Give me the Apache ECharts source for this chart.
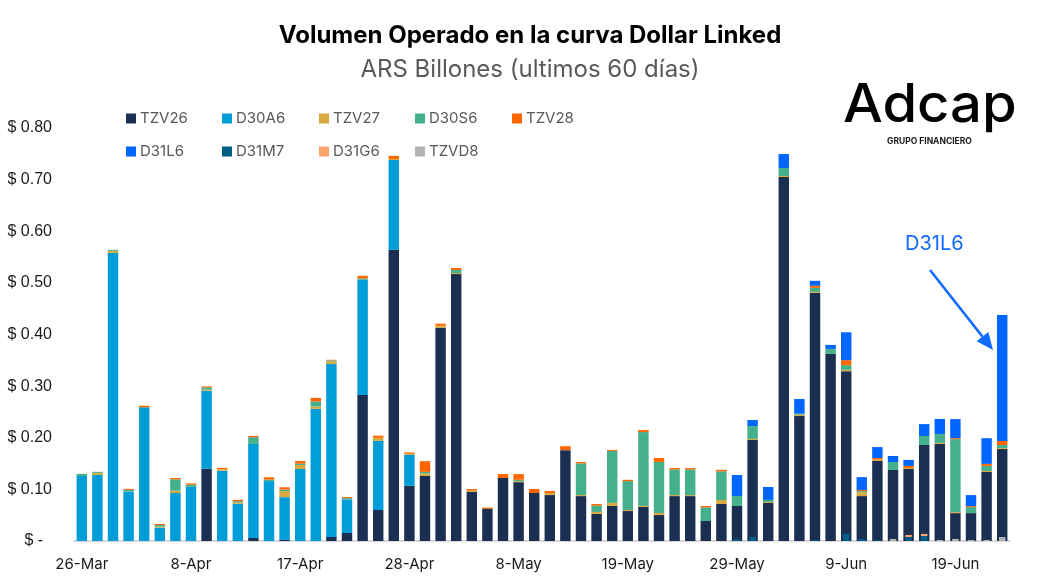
<!DOCTYPE html>
<html>
<head>
<meta charset="utf-8">
<script src="https://cdn.jsdelivr.net/npm/echarts/dist/echarts.min.js"></script>
<style>
  html, body { margin: 0; padding: 0; background: #ffffff; }
  #chart { width: 1060px; height: 579px; }
</style>
</head>
<body>
<div id="chart"></div>
<script>
// ---- Data (ARS billones) ----
const dates = [
  '26-Mar','27-Mar','28-Mar','31-Mar','1-Apr','3-Apr','7-Apr','8-Apr','9-Apr','10-Apr',
  '11-Apr','14-Apr','15-Apr','16-Apr','17-Apr','21-Apr','22-Apr','23-Apr','24-Apr','25-Apr',
  '27-Apr','28-Apr','29-Apr','30-Apr','2-May','5-May','6-May','7-May','8-May','9-May',
  '12-May','13-May','14-May','15-May','16-May','19-May','20-May','21-May','22-May','26-May',
  '27-May','28-May','29-May','30-May','2-Jun','3-Jun','4-Jun','5-Jun','6-Jun','9-Jun',
  '10-Jun','11-Jun','12-Jun','13-Jun','17-Jun','18-Jun','19-Jun','23-Jun','24-Jun','25-Jun'
];

const TZV26 = [
  0,0,0,0,0,0,0,0,0.140,0,
  0,0.006,0,0.002,0,0,0.0077,0.0155,0.283,0.060,
  0.564,0.107,0.126,0.413,0.517,0.095,0.062,0.122,0.114,0.093,
  0.089,0.176,0.087,0.0523,0.0678,0.058,0.066,0.0503,0.087,0.087,
  0.0387,0.0717,0.0678,0.1957,0.0736,0.705,0.242,0.4806,0.3624,0.329,
  0.087,0.155,0.1375,0.1395,0.186,0.188,0.054,0.054,0.1337,0.178
];
const D30A6 = [
  0.126,0.128,0.558,0.096,0.259,0.026,0.093,0.105,0.151,0.136,
  0.072,0.182,0.116,0.083,0.1395,0.256,0.335,0.065,0.223,0.134,
  0.174,0.060,0,0,0,0,0,0,0,0,
  0,0,0,0,0,0,0,0,0,0,
  0,0,0,0,0,0,0,0,0,0,
  0,0,0,0,0,0,0,0,0,0
];
const TZV27 = [
  0,0.004,0.004,0,0,0.002,0.0045,0,0.002,0.003,
  0.0026,0,0,0.0116,0.0077,0.0045,0.005,0,0,0.006,
  0.002,0.002,0.005,0.004,0.002,0.0026,0,0,0.002,0,
  0.004,0,0.002,0.004,0.006,0.002,0.002,0.004,0.002,0.002,
  0,0.0077,0,0.002,0.002,0.002,0.0026,0.002,0,0.0026,
  0.0077,0.0026,0,0.002,0,0.002,0.002,0,0.002,0.002
];
const D30S6 = [
  0.004,0.002,0.002,0.003,0,0.003,0.022,0.004,0.0045,0,
  0.0026,0.013,0.003,0.003,0.0026,0.0097,0.002,0.0026,0.0026,0,
  0,0,0.003,0,0.006,0,0,0,0.0026,0,
  0,0,0.0613,0.0123,0.1007,0.056,0.143,0.0988,0.0497,0.0497,
  0.0265,0.0555,0.0194,0.025,0.004,0.0155,0.002,0.0077,0.0097,0.009,
  0.002,0,0.0155,0,0.0174,0.0174,0.1413,0.0116,0.0097,0.006
];
const TZV28 = [
  0,0,0,0.002,0.003,0.002,0.0026,0.0026,0.002,0.0026,
  0.0026,0.0026,0.0045,0.0045,0.005,0.007,0.0013,0.002,0.005,0.004,
  0.006,0.0026,0.0207,0.004,0.004,0.003,0.0026,0.0077,0.011,0.0077,
  0.004,0.0077,0.0026,0.003,0.002,0.0026,0.004,0.0077,0.0026,0.0026,
  0.0026,0.003,0,0,0,0,0,0.004,0,0.0097,
  0.002,0.003,0,0.004,0,0,0.002,0.002,0.004,0.0077
];
const D31L6 = [
  0,0,0,0,0,0,0,0,0,0,
  0,0,0,0,0,0,0,0,0,0,
  0,0,0,0,0,0,0,0,0,0,
  0,0,0,0,0,0,0,0,0,0,
  0,0,0.0407,0.0116,0.025,0.027,0.0284,0.0097,0.0077,0.054,
  0.025,0.0213,0.0116,0.0116,0.023,0.029,0.0368,0.0213,0.0497,0.244
];
const D31M7 = [
  0,0,0,0,0,0,0,0,0,0,
  0,0,0,0,0,0,0,0,0,0,
  0,0,0,0,0,0,0,0,0,0,
  0,0,0,0,0,0,0,0,0,0,
  0,0,0.004,0.0077,0,0,0,0.002,0,0.0136,
  0.004,0.002,0,0.0077,0.0097,0,0,0,0,0
];
const D31G6 = [
  0,0,0,0,0,0,0,0,0,0,
  0,0,0,0,0,0,0,0,0,0,
  0,0,0,0,0,0,0,0,0,0,
  0,0,0,0,0,0,0,0,0,0,
  0,0,0,0,0,0,0,0,0,0,
  0,0,0,0.004,0.004,0,0,0,0,0
];
const TZVD8 = [
  0,0,0,0,0,0,0,0,0,0,
  0,0,0,0,0,0,0,0,0,0,
  0,0,0,0,0,0,0,0,0,0,
  0,0,0,0,0,0,0,0,0,0,
  0,0,0,0,0,0,0,0,0,0,
  0,0,0.004,0,0,0.002,0.004,0.002,0.002,0.0077
];

const yTicks = [0, 0.1, 0.2, 0.3, 0.4, 0.5, 0.6, 0.7, 0.8];

const colors = {
  TZV26: '#1B2F52', D30A6: '#009DD9', TZV27: '#D9A93D', D30S6: '#44B08C', TZV28: '#FF6600',
  D31L6: '#0066FF', D31M7: '#015F85', D31G6: '#FFA46C', TZVD8: '#B3B3B3'
};

const mainSeries = [['TZV26', TZV26], ['D30A6', D30A6], ['TZV27', TZV27], ['D30S6', D30S6], ['TZV28', TZV28], ['D31L6', D31L6]];
const overlaySeries = [['D31M7', D31M7], ['D31G6', D31G6], ['TZVD8', TZVD8]];

const series = [];
mainSeries.forEach(([name, data]) => {
  series.push({
    name, type: 'bar', stack: 'main', data, xAxisIndex: 0, yAxisIndex: 0,
    barCategoryGap: '33%', itemStyle: { color: colors[name] }, z: 2
  });
});
overlaySeries.forEach(([name, data]) => {
  series.push({
    name, type: 'bar', stack: 'over', data, xAxisIndex: 1, yAxisIndex: 0,
    barWidth: 6.5, itemStyle: { color: colors[name] }, z: 3
  });
});

const legendOrder = [
  ['TZV26', 126, 0], ['D30A6', 222, 0], ['TZV27', 319, 0], ['D30S6', 415, 0], ['TZV28', 512, 0],
  ['D31L6', 126, 1], ['D31M7', 222, 1], ['D31G6', 319, 1], ['TZVD8', 415, 1]
];
const legends = legendOrder.map(([name, left, row]) => ({
  data: [name], left, top: row === 0 ? 111 : 144, padding: 0,
  icon: 'rect', itemWidth: 10, itemHeight: 10,
  textStyle: { fontFamily: 'Inter', fontSize: 15, color: '#595959', padding: [0, 0, 0, -1] },
  selectedMode: false
}));

const chart = echarts.init(document.getElementById('chart'), null, { renderer: 'canvas' });

// arrow geometry (annotation)
const tip = [993, 350], start = [930, 270];
const dx = tip[0] - start[0], dy = tip[1] - start[1];
const len = Math.sqrt(dx * dx + dy * dy);
const ux = dx / len, uy = dy / len;
const headLen = 17, headHalf = 7.5;
const base = [tip[0] - headLen * ux, tip[1] - headLen * uy];
const p1 = [base[0] - headHalf * uy, base[1] + headHalf * ux];
const p2 = [base[0] + headHalf * uy, base[1] - headHalf * ux];

chart.setOption({
  backgroundColor: '#ffffff',
  animation: false,
  color: Object.values(colors),
  title: {
    text: 'Volumen Operado en la curva Dollar Linked',
    subtext: 'ARS Billones (ultimos 60 días)',
    left: 'center', top: 19, itemGap: 10,
    textStyle: { fontFamily: 'Inter', fontWeight: 'bold', fontSize: 24, color: '#000000' },
    subtextStyle: { fontFamily: 'Inter', fontSize: 24, color: '#595959' }
  },
  legend: legends,
  grid: { left: 74, right: 50, top: 128, bottom: 38, containLabel: false },
  xAxis: [
    {
      type: 'category', data: dates, gridIndex: 0,
      axisLine: { lineStyle: { color: '#D9D9D9', width: 2 } },
      axisTick: { show: false },
      axisLabel: { interval: 6, fontFamily: 'Inter', fontSize: 15, color: '#1A1A1A', margin: 16 }
    },
    {
      type: 'category', data: dates, gridIndex: 0, show: false
    }
  ],
  yAxis: {
    type: 'value', min: yTicks[0], max: yTicks[yTicks.length - 1], interval: 0.1,
    splitLine: { show: false },
    axisLine: { show: false }, axisTick: { show: false },
    axisLabel: {
      margin: 22, fontFamily: 'Liberation Sans', fontSize: 16, color: '#1A1A1A',
      formatter: v => (Math.abs(v) < 1e-9 ? '$ -  ' : '$ ' + v.toFixed(2))
    }
  },
  series,
  graphic: [
    {
      type: 'text', left: 843, top: 80, scaleX: 1.06,
      style: { text: 'Adcap', font: '500 53px Inter', fill: '#000000' }
    },
    {
      type: 'text', left: 887, top: 137,
      style: { text: 'GRUPO FINANCIERO', font: 'bold 8.5px Inter', fill: '#1A1A1A' }
    },
    {
      type: 'text', left: 905, top: 234,
      style: { text: 'D31L6', font: '20px Inter', fill: '#0F6BFF' }
    },
    {
      type: 'line',
      shape: { x1: start[0], y1: start[1], x2: base[0], y2: base[1] },
      style: { stroke: '#0F6BFF', lineWidth: 2.5 }
    },
    {
      type: 'polygon',
      shape: { points: [tip, p1, p2] },
      style: { fill: '#0F6BFF' }
    }
  ]
});
</script>
</body>
</html>
